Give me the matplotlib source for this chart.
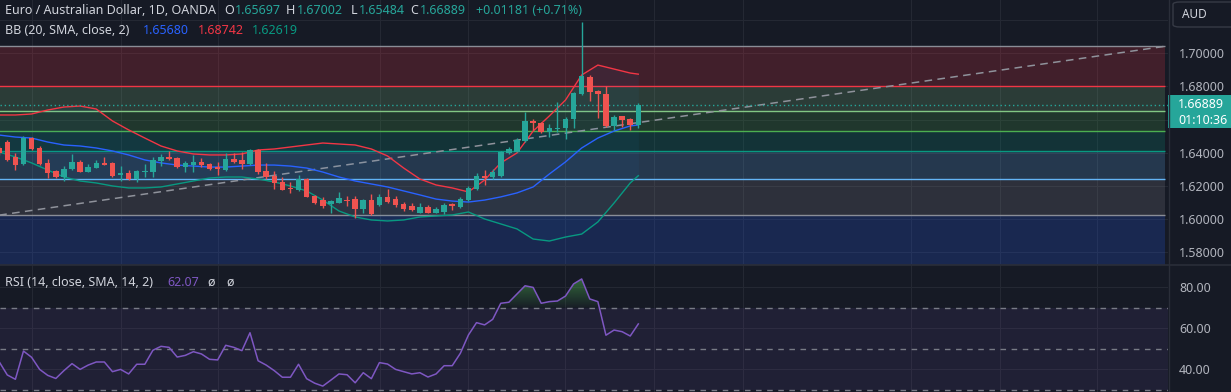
import matplotlib
matplotlib.use("Agg")
import matplotlib.pyplot as plt
import numpy as np
from matplotlib.patches import Rectangle, FancyBboxPatch
from matplotlib.lines import Line2D
from matplotlib.path import Path
from matplotlib.colors import LinearSegmentedColormap

plt.rcParams['font.family'] = ['Noto Sans', 'DejaVu Sans']

# ---------------- data ----------------
opens = [1.6429, 1.6465, 1.6375, 1.6331, 1.6487, 1.6431, 1.6340, 1.6290, 1.6256, 1.6301,
         1.6343, 1.6286, 1.6310, 1.6337, 1.6337, 1.6268, 1.6276, 1.6240, 1.6284, 1.6284,
         1.6352, 1.6373, 1.6367, 1.6313, 1.6327, 1.6346, 1.6332, 1.6313, 1.6296, 1.6361,
         1.6357, 1.6332, 1.6417, 1.6290, 1.6260, 1.6226, 1.6190, 1.6176, 1.6240, 1.6140,
         1.6115, 1.6089, 1.6099, 1.6115, 1.6120, 1.6061, 1.6115, 1.6083, 1.6132, 1.6121,
         1.6091, 1.6079, 1.6039, 1.6075, 1.6039, 1.6045, 1.6089, 1.6075, 1.6115, 1.6180,
         1.6258, 1.6252, 1.6262, 1.6397, 1.6407, 1.6473, 1.6592, 1.6581, 1.6527, 1.6544,
         1.6548, 1.6604, 1.6755, 1.6859, 1.6773, 1.6755, 1.6564, 1.6622, 1.6604, 1.65697]
highs = [1.6441, 1.6477, 1.6399, 1.6503, 1.6497, 1.6441, 1.6363, 1.6296, 1.6320, 1.6391,
         1.6357, 1.6333, 1.6357, 1.6377, 1.6346, 1.6320, 1.6296, 1.6296, 1.6333, 1.6373,
         1.6391, 1.6413, 1.6377, 1.6351, 1.6387, 1.6371, 1.6340, 1.6346, 1.6397, 1.6401,
         1.6407, 1.6423, 1.6421, 1.6337, 1.6290, 1.6256, 1.6226, 1.6266, 1.6246, 1.6146,
         1.6132, 1.6115, 1.6162, 1.6140, 1.6140, 1.6120, 1.6152, 1.6150, 1.6182, 1.6140,
         1.6101, 1.6099, 1.6099, 1.6083, 1.6075, 1.6095, 1.6095, 1.6135, 1.6200, 1.6276,
         1.6296, 1.6302, 1.6411, 1.6437, 1.6487, 1.6644, 1.6604, 1.6588, 1.6572, 1.6705,
         1.6618, 1.6768, 1.7187, 1.6869, 1.6779, 1.6803, 1.6628, 1.6624, 1.6612, 1.67002]
lows = [1.6387, 1.6351, 1.6296, 1.6327, 1.6417, 1.6327, 1.6246, 1.6250, 1.6230, 1.6296,
        1.6282, 1.6282, 1.6307, 1.6325, 1.6256, 1.6230, 1.6236, 1.6222, 1.6256, 1.6256,
        1.6322, 1.6357, 1.6307, 1.6286, 1.6286, 1.6316, 1.6296, 1.6266, 1.6292, 1.6337,
        1.6304, 1.6327, 1.6272, 1.6242, 1.6182, 1.6174, 1.6159, 1.6172, 1.6132, 1.6091,
        1.6067, 1.6035, 1.6096, 1.6081, 1.6005, 1.6035, 1.6023, 1.6079, 1.6096, 1.6075,
        1.6049, 1.6051, 1.6035, 1.6035, 1.6035, 1.6031, 1.6055, 1.6069, 1.6111, 1.6176,
        1.6206, 1.6242, 1.6256, 1.6391, 1.6403, 1.6467, 1.6538, 1.6518, 1.6497, 1.6527,
        1.6483, 1.6548, 1.6749, 1.6712, 1.6608, 1.6557, 1.6538, 1.6554, 1.6538, 1.65484]
closes = [1.6399, 1.6357, 1.6327, 1.6487, 1.6423, 1.6332, 1.6280, 1.6256, 1.6302, 1.6343,
          1.6286, 1.6316, 1.6337, 1.6328, 1.6262, 1.6276, 1.6240, 1.6290, 1.6292, 1.6357,
          1.6376, 1.6363, 1.6316, 1.6337, 1.6346, 1.6327, 1.6302, 1.6304, 1.6361, 1.6346,
          1.6332, 1.6417, 1.6286, 1.6256, 1.6220, 1.6176, 1.6182, 1.6240, 1.6135, 1.6099,
          1.6079, 1.6109, 1.6129, 1.6109, 1.6061, 1.6115, 1.6029, 1.6135, 1.6105, 1.6083,
          1.6063, 1.6055, 1.6075, 1.6039, 1.6059, 1.6085, 1.6081, 1.6120, 1.6186, 1.6262,
          1.6246, 1.6286, 1.6403, 1.6423, 1.6477, 1.6592, 1.6578, 1.6524, 1.6548, 1.6551,
          1.6604, 1.6762, 1.6863, 1.6765, 1.6755, 1.6564, 1.6618, 1.6598, 1.6568, 1.66889]

# Bollinger bands (read at sampled bars)
bb_bars = [0, 2, 4, 6, 8, 10, 12, 14, 16, 18, 20, 22, 24, 26, 28, 30, 32, 34, 36, 38,
           40, 42, 44, 46, 48, 50, 52, 54, 56, 58, 60, 62, 64, 66, 68, 70, 72, 74, 76, 78, 79]
bb_upper = [1.6628, 1.6628, 1.6634, 1.6658, 1.6676, 1.6682, 1.6664, 1.6592, 1.6538, 1.6489,
            1.6441, 1.6411, 1.6393, 1.6387, 1.6387, 1.6393, 1.6417, 1.6423, 1.6435, 1.6447,
            1.6459, 1.6453, 1.6447, 1.6423, 1.6381, 1.6308, 1.6242, 1.6206, 1.6188, 1.6164,
            1.6236, 1.6339, 1.6399, 1.6531, 1.6622, 1.6718, 1.6869, 1.6929, 1.6905, 1.6881, 1.68742]
bb_basis = [1.6507, 1.6495, 1.6489, 1.6465, 1.6447, 1.6441, 1.6429, 1.6411, 1.6387, 1.6357,
            1.6339, 1.6326, 1.6320, 1.6314, 1.6314, 1.6320, 1.6326, 1.6326, 1.6320, 1.6308,
            1.6284, 1.6254, 1.6230, 1.6212, 1.6194, 1.6170, 1.6146, 1.6121, 1.6109, 1.6103,
            1.6115, 1.6134, 1.6158, 1.6194, 1.6272, 1.6345, 1.6429, 1.6489, 1.6531, 1.6562, 1.65680]
bb_lower = [1.6405, 1.6375, 1.6339, 1.6296, 1.6254, 1.6230, 1.6218, 1.6200, 1.6188, 1.6188,
            1.6194, 1.6212, 1.6230, 1.6248, 1.6254, 1.6254, 1.6242, 1.6224, 1.6200, 1.6170,
            1.6115, 1.6049, 1.6013, 1.5995, 1.5989, 1.5995, 1.6013, 1.6019, 1.6025, 1.6043,
            1.6001, 1.5971, 1.5941, 1.5880, 1.5868, 1.5892, 1.5910, 1.5983, 1.6097, 1.6218, 1.62619]

rsi = [43.7, 37.3, 35.2, 48.9, 45.9, 40.0, 37.1, 35.6, 39.4, 42.8,
       40.0, 42.1, 43.6, 43.6, 38.9, 40.0, 37.8, 42.5, 42.5, 49.3,
       51.2, 50.7, 46.0, 46.8, 48.6, 47.5, 44.9, 44.6, 51.7, 50.7,
       49.1, 57.8, 44.2, 42.1, 39.4, 36.2, 36.2, 42.5, 35.5, 33.3,
       31.9, 34.8, 37.8, 37.4, 33.5, 38.4, 35.5, 43.3, 42.6, 40.0,
       38.9, 37.8, 38.4, 36.3, 37.8, 41.8, 41.8, 47.8, 56.7, 62.7,
       61.6, 64.3, 72.1, 72.6, 76.6, 80.6, 79.8, 72.1, 72.9, 73.2,
       75.6, 81.5, 83.9, 74.2, 72.9, 56.6, 59.1, 58.3, 56.2, 62.07]

# Fibonacci retracement drawing
fib_top = 1.70422
fib_bottom = 1.60231
fib_ratios = [0, 0.236, 0.382, 0.5, 0.618, 0.786, 1, 1.618]
fib_colors = ['#8a8d96', '#f23645', '#81c784', '#4caf50', '#089981', '#64b5f6', '#8a8d96', '#2962ff']
trend_start = (0.0, 1.6024)
trend_end = (144.1, 1.70422)

price_ticks = [1.58, 1.60, 1.62, 1.64, 1.66, 1.68, 1.70, 1.72]
price_labels = ["1.58000", "1.60000", "1.62000", "1.64000", "", "1.68000", "1.70000", ""]
rsi_ticks = [40, 60, 80]
rsi_labels = ["40.00", "60.00", "80.00"]
rsi_levels = [30, 50, 70]
grid_bars = [4.05, 15.06, 27.05, 47.07, 57.95, 69.94, 80.94, 91.9, 112.7, 123.7, 135.7]

last_price = 1.66889

# ---------------- styling ----------------
W, H = 1231, 392
BG = '#161a25'
GRID = '#242833'
TXT = '#d1d4dc'
AXT = '#b2b5be'
UP = '#26a69a'
DN = '#ef5350'

fig = plt.figure(figsize=(W / 100, H / 100), dpi=100, facecolor=BG)
PLOT_R = 1168
SPLIT = 264
ax = fig.add_axes([0, 1 - SPLIT / H, PLOT_R / W, SPLIT / H])
ax2 = fig.add_axes([0, 0, PLOT_R / W, (H - SPLIT - 1) / H])

xlim = (0.8 / 8.09, (PLOT_R + 0.8) / 8.09)
for a in (ax, ax2):
    a.set_facecolor(BG)
    for s in a.spines.values():
        s.set_visible(False)
    a.set_xlim(*xlim)
    a.set_xticks(grid_bars)
    a.tick_params(axis='x', length=0, labelbottom=False)
    a.grid(True, color=GRID, lw=0.8, zorder=0)
    a.set_axisbelow(True)
    a.yaxis.tick_right()
    a.tick_params(axis='y', length=0, pad=8, labelsize=9, labelcolor=AXT)

ax.set_ylim(1.572942, 1.732141)
ax.set_yticks(price_ticks)
ax.set_yticklabels(price_labels)

# Fibonacci fills and lines
rng = fib_top - fib_bottom
levels = [fib_top - r * rng for r in fib_ratios]
fl, fr = -5, trend_end[0]
for i in range(len(levels) - 1):
    ax.fill_between([fl, fr], levels[i], levels[i + 1], color=fib_colors[i + 1],
                    alpha=0.2, lw=0, zorder=1)
for lv, c in zip(levels, fib_colors):
    ax.hlines(lv, fl, fr, color=c, lw=1.0, zorder=2)
ax.plot([trend_start[0], trend_end[0]], [trend_start[1], trend_end[1]],
        color='#8f929b', lw=1.1, dashes=(5, 3.5), zorder=2)

# Bollinger bands
ax.fill_between(bb_bars, bb_upper, bb_lower, color='#2196f3', alpha=0.05, lw=0, zorder=2)
ax.plot(bb_bars, bb_upper, color='#f23645', lw=1.0, zorder=3)
ax.plot(bb_bars, bb_basis, color='#2962ff', lw=1.0, zorder=3)
ax.plot(bb_bars, bb_lower, color='#089981', lw=1.0, zorder=3)

# current price line
ax.axhline(last_price, color=UP, lw=1.0, dashes=(1, 2), zorder=3)

# candles
idx = np.arange(len(opens))
o = np.array(opens); c = np.array(closes); h = np.array(highs); l = np.array(lows)
cols = np.where(c >= o, UP, DN)
ax.vlines(idx, l, h, colors=cols, lw=1.0, zorder=4)
body_lo = np.minimum(o, c)
body_h = np.maximum(np.abs(c - o), 0.00012)
ax.bar(idx, body_h, bottom=body_lo, width=0.68, color=cols, lw=0, zorder=5)

# RSI pane
ax2.set_ylim(29.03, 90.68)
ax2.set_yticks(rsi_ticks)
ax2.set_yticklabels(rsi_labels)
ax2.axhspan(30, 70, color='#7e57c2', alpha=0.1, lw=0, zorder=1)
for lv in rsi_levels:
    ax2.axhline(lv, color='#787b86', lw=1.0, dashes=(4, 4), zorder=2)
r = np.array(rsi, dtype=float)
poly = ax2.fill_between(idx, r, 70, where=r > 70, interpolate=True, color='none', lw=0)
paths = poly.get_paths()
if paths:
    cmap = LinearSegmentedColormap.from_list(
        'g', [(0.30, 0.69, 0.31, 0.02), (0.30, 0.69, 0.31, 0.55)])
    grad = np.linspace(0, 1, 256).reshape(-1, 1)
    im = ax2.imshow(grad, extent=[xlim[0], xlim[1], 70, 85], origin='lower', cmap=cmap,
                    aspect='auto', zorder=2, interpolation='bilinear')
    im.set_clip_path(Path.make_compound_path(*paths), transform=ax2.transData)
ax2.plot(idx, r, color='#7e57c2', lw=1.1, zorder=4)
ax2.set_xlim(*xlim)
ax2.set_ylim(29.03, 90.68)

# separators
fig.add_artist(Line2D([0, 1], [1 - (SPLIT + 0.5) / H] * 2, color='#2a2e39', lw=1.2))
fig.add_artist(Line2D([(PLOT_R + 0.5) / W] * 2, [0, 1], color='#2a2e39', lw=1.0))

def px(x, y):
    return x / W, 1 - y / H

def t(x, y, s, color=TXT, size=9, **kw):
    fig.text(*px(x, y), s, color=color, fontsize=size, va='center', ha='left', **kw)

# header
t(5, 11, "Euro / Australian Dollar, 1D, OANDA")
t(224, 11, "O"); t(235, 11, "1.65697", UP)
t(286, 11, "H"); t(297, 11, "1.67002", UP)
t(351, 11, "L"); t(359, 11, "1.65484", UP)
t(410, 11, "C"); t(420, 11, "1.66889", UP)
t(476, 11, "+0.01181 (+0.71%)", UP)
t(5, 31, "BB (20, SMA, close, 2)")
t(143, 31, "1.65680", '#2962ff')
t(198, 31, "1.68742", '#f23645')
t(252, 31, "1.62619", '#089981')
t(5, 282, "RSI (14, close, SMA, 14, 2)")
t(167, 282, "62.07", '#7e57c2')
t(207, 282, "ø")
t(226, 282, "ø")

# AUD box
fig.add_artist(FancyBboxPatch(px(1173, 27), 70 / W, 25 / H,
                              boxstyle="round,pad=0,rounding_size=0.006",
                              fc=BG, ec='#363a45', lw=1.0))
t(1182, 14, "AUD", TXT, 8.5)

# last price label
fig.add_artist(Rectangle(px(1168, 128), 63 / W, 33 / H, fc=UP, ec='none'))
t(1178, 104, "1.66889", 'white', 9, fontweight='bold')
t(1178, 120, "01:10:36", 'white', 9)

fig.savefig("out.png", dpi=100, facecolor=BG)
